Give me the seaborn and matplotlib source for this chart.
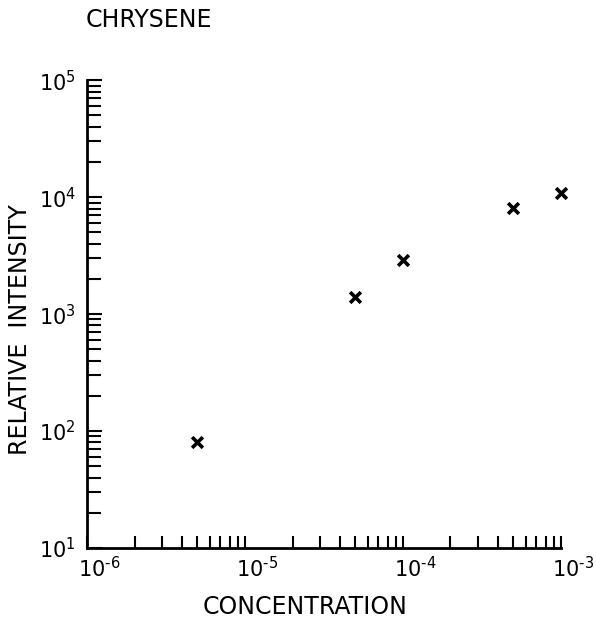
import numpy as np
import pandas as pd
import seaborn as sns
import matplotlib.pyplot as plt
import matplotlib.transforms as mtransforms
from matplotlib.ticker import LogLocator, FuncFormatter, NullFormatter

# chrysene: relative intensity vs concentration
concentration = [5e-6, 5e-5, 1e-4, 5e-4, 1e-3]
intensity = [80, 1400, 2900, 8100, 10800]
df = pd.DataFrame({'conc': concentration, 'intensity': intensity})

sns.set_style("white")
plt.rcParams['font.family'] = ['DejaVu Sans']
plt.rcParams['text.color'] = 'black'
plt.rcParams['xtick.color'] = 'black'
plt.rcParams['ytick.color'] = 'black'


def pow10(v, pos):
    e = int(round(np.log10(v)))
    if e < 0:
        return r'$\mathdefault{10^{\text{-}%d}}$' % (-e)
    return r'$\mathdefault{10^{%d}}$' % e


fig = plt.figure(figsize=(5.96, 6.32), dpi=100)
ax = fig.add_axes([0.146, 0.133, 0.795, 0.740])

sns.scatterplot(data=df, x='conc', y='intensity', marker='x', s=60,
                color='black', linewidth=2.6, ax=ax, legend=False,
                clip_on=False, zorder=5)

ax.set_xscale('log')
ax.set_yscale('log')
ax.set_xlim(1e-6, 1e-3)
ax.set_ylim(10, 1e5)

for a in (ax.xaxis, ax.yaxis):
    a.set_major_locator(LogLocator(base=10, numticks=10))
    a.set_minor_locator(LogLocator(base=10, subs=np.arange(2, 10), numticks=20))
    a.set_major_formatter(FuncFormatter(pow10))
    a.set_minor_formatter(NullFormatter())

ax.tick_params(axis='x', which='both', bottom=True, direction='in', length=9,
               width=1.5, labelsize=15, pad=6)
ax.tick_params(axis='y', which='major', left=True, direction='in', length=11,
               width=1.5, labelsize=15, pad=8)
ax.tick_params(axis='y', which='minor', left=True, direction='in', length=10,
               width=1.5)

# x labels sit a little right of their ticks in the original
shift = mtransforms.ScaledTranslation(0.12, 0, fig.dpi_scale_trans)
for lab in ax.get_xticklabels():
    lab.set_transform(lab.get_transform() + shift)

sns.despine(ax=ax)
for s in ('left', 'bottom'):
    ax.spines[s].set_linewidth(2.0)
    ax.spines[s].set_color('black')

ax.set_xlabel('')
ax.set_ylabel('')
fig.text(0.144, 0.968, 'CHRYSENE', fontsize=17, ha='left', va='center')
fig.text(0.512, 0.040, 'CONCENTRATION', fontsize=17, ha='center', va='center')
fig.text(0.034, 0.478, 'RELATIVE  INTENSITY', fontsize=17, rotation=90,
         ha='center', va='center')

fig.savefig('out.png', dpi=100)
